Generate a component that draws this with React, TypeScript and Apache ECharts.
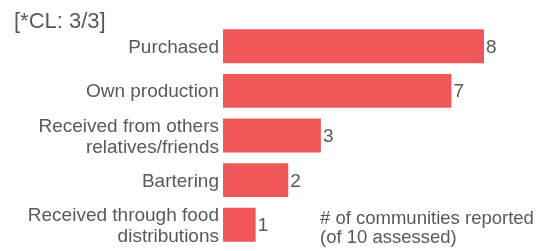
import React, { useEffect, useRef } from "react";
import * as echarts from "echarts";

const categories = [
  "Purchased",
  "Own production",
  "Received from others\nrelatives/friends",
  "Bartering",
  "Received through food\ndistributions",
];
const values = [8, 7, 3, 2, 1];
const titleText = "[*CL: 3/3]";
const noteText = "# of communities reported\n(of 10 assessed)";

const FONT = "'Liberation Sans', Arial, sans-serif";
const GREY = "#595959";

export default function App() {
  const ref = useRef<HTMLDivElement>(null);
  useEffect(() => {
    if (!ref.current) return;
    const chart = echarts.init(ref.current, null, { renderer: "svg" });
    chart.setOption({
      animation: false,
      textStyle: { fontFamily: FONT },
      title: [
        {
          text: titleText,
          left: 14,
          top: 9,
          padding: 0,
          textStyle: { fontFamily: FONT, fontSize: 22, fontWeight: "normal", color: GREY },
        },
        {
          text: noteText,
          left: 320,
          top: 208,
          padding: 0,
          textStyle: { fontFamily: FONT, fontSize: 18.5, fontWeight: "normal", color: GREY, lineHeight: 19 },
        },
      ],
      grid: { left: 223, right: 53, top: 24, bottom: 4, containLabel: false },
      xAxis: {
        type: "value",
        min: 0,
        max: 8,
        show: false,
      },
      yAxis: {
        type: "category",
        inverse: true,
        data: categories,
        axisLine: { show: false },
        axisTick: { show: false },
        axisLabel: {
          margin: 4,
          fontFamily: FONT,
          fontSize: 19,
          lineHeight: 21,
          color: GREY,
          align: "right",
        },
      },
      series: [
        {
          type: "bar",
          data: values,
          barCategoryGap: "24%",
          itemStyle: { color: "#EF5859" },
          label: {
            show: true,
            position: "right",
            distance: 2,
            fontFamily: FONT,
            fontSize: 19,
            color: GREY,
          },
        },
      ],
    });
    return () => chart.dispose();
  }, []);
  return (
    <div
      ref={ref}
      style={{ position: "fixed", left: 0, top: 0, width: 537, height: 251 }}
    />
  );
}
